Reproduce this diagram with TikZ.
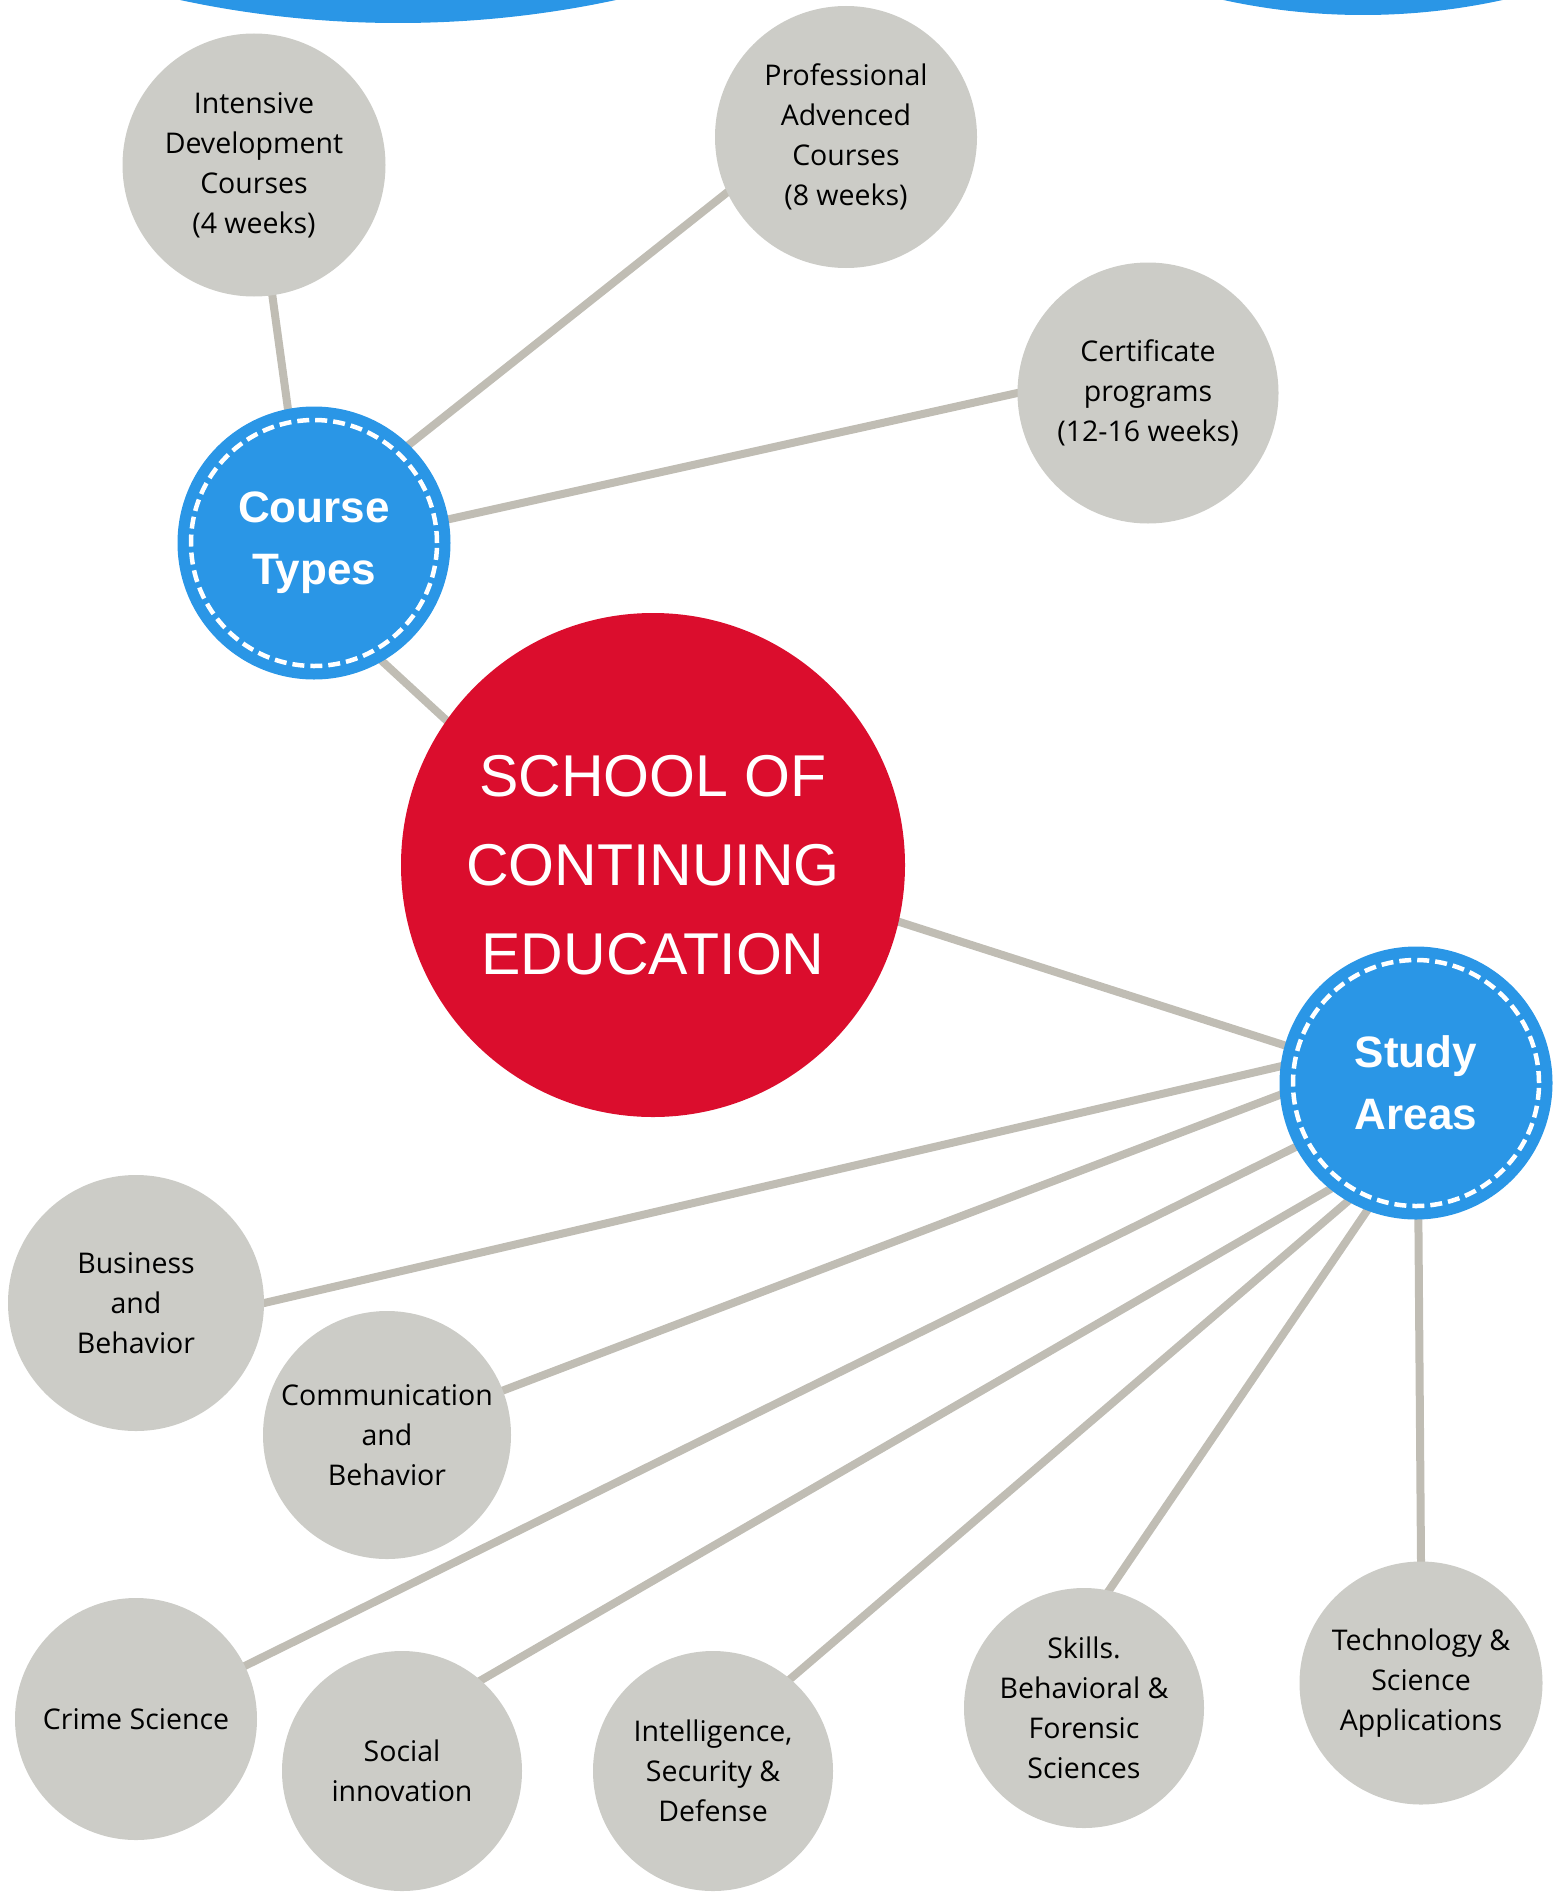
\documentclass[tikz,border=0pt]{standalone}
\usepackage{fontspec}
\setmainfont{Open Sans}
\newfontfamily\headfont{Liberation Sans}
\usetikzlibrary{backgrounds}

\definecolor{mapblue}{HTML}{2A96E6}
\definecolor{mapred}{HTML}{DB0D2D}
\definecolor{mapgrey}{HTML}{CCCCC7}
\definecolor{maplink}{HTML}{C0BDB4}

\begin{document}
\begin{tikzpicture}[x=1pt, y=-1pt,
    topicnode/.style={circle, fill=mapgrey, inner sep=0pt, align=center, text=black, font=\fontsize{28.5}{40}\selectfont},
    hubnode/.style={circle, fill=mapblue, minimum size=273pt, inner sep=0pt, align=center, text=white,
        font=\headfont\bfseries\fontsize{44}{62}\selectfont,
        path picture={\draw[white, line width=4.5pt, dash pattern=on 12pt off 6pt] (path picture bounding box.center) circle[radius=123pt];}},
    schoolnode/.style={circle, fill=mapred, minimum size=504pt, inner sep=0pt, align=center, text=white,
        font=\headfont\fontsize{59}{89}\selectfont},
    link/.style={draw=maplink, line width=8pt, shorten <=-6pt, shorten >=-6pt},
]
    \useasboundingbox (0,0) rectangle (1553,1892);
    % cut-off shapes at the top
    \begin{scope}
        \clip (0,0) rectangle (1553,1892);
        \fill[mapblue] (398,-1012) circle[radius=1035];
        \fill[mapblue] (1363,-636) circle[radius=651];
    \end{scope}
    % nodes
    \node[schoolnode] (school) at (653,865) {SCHOOL OF\\CONTINUING\\EDUCATION};
    \node[hubnode]    (types)  at (314,543)  {Course\\Types};
    \node[hubnode]    (areas)  at (1416,1083) {Study\\Areas};

    \node[topicnode, minimum size=263pt] (intensive)     at (254,165)   {Intensive\\Development\\Courses\\(4 weeks)};
    \node[topicnode, minimum size=262pt] (advanced)      at (846,137)   {Professional\\Advenced\\Courses\\(8 weeks)};
    \node[topicnode, minimum size=261pt] (certificate)   at (1148,393)  {Certificate\\programs\\(12-16 weeks)};
    \node[topicnode, minimum size=256pt] (business)      at (136,1303)  {Business\\and\\Behavior};
    \node[topicnode, minimum size=248pt] (communication) at (387,1435)  {Communication\\and\\Behavior};
    \node[topicnode, minimum size=242pt] (crime)         at (136,1719)  {Crime Science};
    \node[topicnode, minimum size=240pt] (social)        at (402,1771)  {Social\\innovation};
    \node[topicnode, minimum size=240pt] (intelligence)  at (713,1771)  {Intelligence,\\Security \&\\Defense};
    \node[topicnode, minimum size=240pt] (skills)        at (1084,1708) {Skills.\\Behavioral \&\\Forensic\\Sciences};
    \node[topicnode, minimum size=243pt] (technology)    at (1421,1683) {Technology \&\\Science\\Applications};
    % lines
    \begin{scope}[on background layer]
        \draw[link] (types.101) -- (intensive.-82);
        \draw[link] (types.46)  -- (advanced.205);
        \draw[link] (types.10)  -- (certificate.180);
        \draw[link] (types.-60) -- (school.145);
        \draw[link] (school.-13) -- (areas.164);
        \draw[link] (areas.173) -- (business.0);
        \draw[link] (areas.185) -- (communication.21);
        \draw[link] (areas.208) -- (crime.26);
        \draw[link] (areas.231) -- (social.49);
        \draw[link] (areas.240) -- (intelligence.50);
        \draw[link] (areas.249) -- (skills.78);
        \draw[link] (areas.271) -- (technology.90);
    \end{scope}
\end{tikzpicture}
\end{document}
